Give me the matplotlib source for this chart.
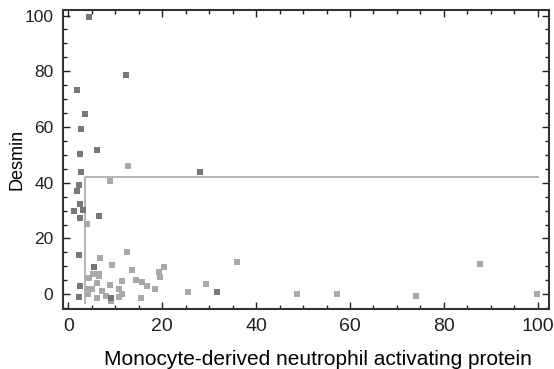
import matplotlib
matplotlib.use('Agg')
import matplotlib.pyplot as plt
from matplotlib.ticker import MultipleLocator

plt.rcParams['font.family'] = ['Liberation Sans', 'DejaVu Sans']

# darker markers
dark_x = [4.3, 12.3, 1.9, 3.6, 2.8, 6.2, 2.4, 2.8, 2.2, 1.8, 2.4, 1.2, 3.1, 2.4,
          6.6, 2.3, 5.5, 2.4, 9.0, 2.2, 28.0, 31.6]
dark_y = [99.6, 78.8, 73.1, 64.8, 59.3, 51.8, 50.4, 43.8, 39.2, 37.2, 32.2, 29.7, 30.1, 27.5,
          28.0, 13.9, 9.7, 3.0, -1.2, -0.9, 43.8, 0.7]

# lighter markers
light_x = [12.7, 8.8, 4.0, 6.8, 12.5, 9.3, 4.4, 5.3, 6.5, 6.6, 13.5, 11.5, 14.4, 15.7,
           16.7, 18.4, 19.3, 19.6, 20.4, 4.1, 5.0, 4.1, 6.1, 7.1, 8.1, 9.0, 8.9, 10.7,
           11.5, 10.7, 6.1, 15.4, 36.0, 29.4, 25.5, 48.8, 57.2, 74.1, 87.8, 99.9]
light_y = [46.1, 40.7, 25.1, 13.1, 15.3, 10.3, 5.9, 7.4, 7.3, 6.7, 8.7, 4.8, 5.1, 4.2,
           2.9, 1.8, 7.8, 6.2, 9.9, 1.9, 1.9, 0.2, 4.1, 1.1, -0.5, -2.4, 3.3, 2.0,
           0.1, -1.0, -1.2, -1.4, 11.6, 3.5, 0.7, 0.2, 0.1, -0.7, 11.0, 0.0]

# cut-off lines
cut_x = [3.6, 3.6, 100.1]
cut_y = [-3.2, 42.2, 42.2]

fig = plt.figure(figsize=(5.54, 3.69), dpi=100)
ax = fig.add_axes([0.114, 0.162, 0.877, 0.811])

ax.plot(cut_x, cut_y, color='#b4b4b4', lw=1.4, zorder=1)
ax.scatter(light_x, light_y, marker='s', s=13, color='#a9a9a9', linewidths=0, zorder=2)
ax.scatter(dark_x, dark_y, marker='s', s=13, color='#777777', linewidths=0, zorder=3)

ax.set_xlim(-1.1, 102.4)
ax.set_ylim(-5.4, 102.0)
ax.xaxis.set_major_locator(MultipleLocator(20))
ax.xaxis.set_minor_locator(MultipleLocator(5))
ax.yaxis.set_major_locator(MultipleLocator(20))
ax.yaxis.set_minor_locator(MultipleLocator(5))
ax.tick_params(which='both', direction='in', top=True, right=True, colors='#222222', width=1.0)
ax.tick_params(which='major', length=5)
ax.tick_params(which='minor', length=3)
ax.tick_params(axis='x', labelsize=14, pad=6)
ax.tick_params(axis='y', labelsize=12.5, pad=7)
for s in ax.spines.values():
    s.set_linewidth(1.5)
    s.set_color('#333333')

ax.set_xlabel('Monocyte-derived neutrophil activating protein', fontsize=15, labelpad=6)
ax.xaxis.set_label_coords(0.525, -0.135)
ax.set_ylabel('Desmin', fontsize=13, labelpad=-1)

fig.savefig('out.png', dpi=100)
